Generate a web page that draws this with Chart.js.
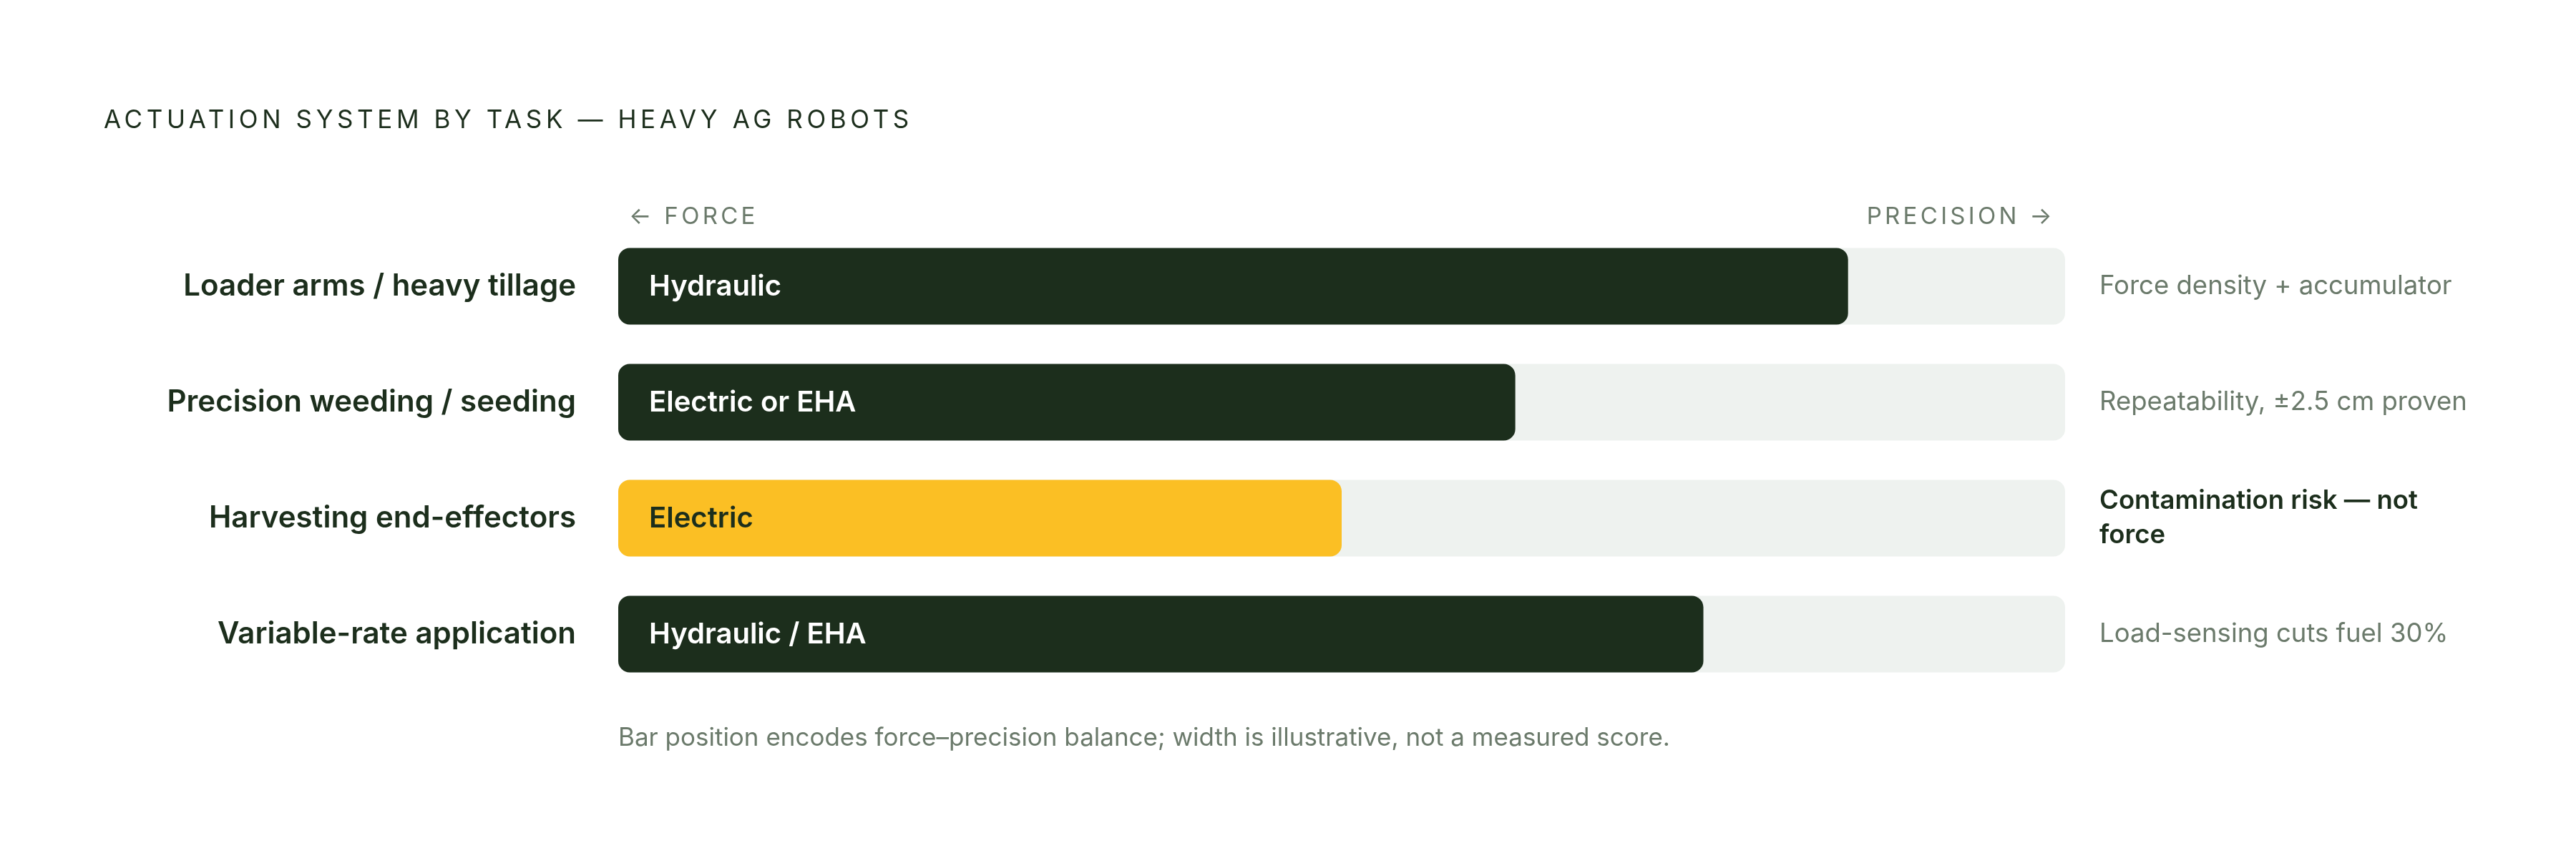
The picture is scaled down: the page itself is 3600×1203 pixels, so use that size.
<!DOCTYPE html>
<html>
<head>
<meta charset="utf-8">
<script src="https://cdn.jsdelivr.net/npm/chart.js@4.4.1/dist/chart.umd.min.js"></script>
<style>
  html, body { margin: 0; padding: 0; background: #ffffff; }
  #wrap { width: 3600px; height: 1203px; }
</style>
</head>
<body>
<div id="wrap"><canvas id="chart" width="3600" height="1203"></canvas></div>
<script>
// --- data ---
const tasks = [
  "Loader arms / heavy tillage",
  "Precision weeding / seeding",
  "Harvesting end-effectors",
  "Variable-rate application"
];
const actuators = ["Hydraulic", "Electric or EHA", "Electric", "Hydraulic / EHA"];
const balance = [85, 62, 50, 75];          // force -> precision position
const trackMax = [100, 100, 100, 100];
const notes = [
  "Force density + accumulator",
  "Repeatability, \u00b12.5 cm proven",
  "Contamination risk \u2014 not force",
  "Load-sensing cuts fuel 30%"
];
const highlight = [false, false, true, false];
const axisEnds = ["\u2190 FORCE", "PRECISION \u2192"];
const title = "ACTUATION SYSTEM BY TASK \u2014 HEAVY AG ROBOTS";
const footnote = "Bar position encodes force\u2013precision balance; width is illustrative, not a measured score.";

const INK = "#1c2e1c";
const MUTED = "#6b7a6b";
const AMBER = "#fbbf24";
const TRACK = "#eef2ef";
const FONT = "Inter, 'Noto Sans', sans-serif";

// wraps a note into lines that fit maxW
function wrapText(ctx, text, maxW) {
  const words = text.split(" ");
  const lines = [];
  let line = "";
  words.forEach(w => {
    const test = line ? line + " " + w : w;
    if (ctx.measureText(test).width > maxW && line) {
      lines.push(line);
      line = w;
    } else {
      line = test;
    }
  });
  if (line) lines.push(line);
  return lines;
}

const decor = {
  id: "decor",
  afterDraw(chart) {
    const ctx = chart.ctx;
    const area = chart.chartArea;
    const meta = chart.getDatasetMeta(0);
    ctx.save();

    // title
    ctx.font = "400 35px " + FONT;
    ctx.letterSpacing = "5.6px";
    ctx.fillStyle = INK;
    ctx.textAlign = "left";
    ctx.textBaseline = "middle";
    ctx.fillText(title, 145, 168);

    // axis end captions
    ctx.font = "400 33px " + FONT;
    ctx.letterSpacing = "4.3px";
    ctx.fillStyle = MUTED;
    ctx.fillText(axisEnds[0], area.left + 15, 303);
    ctx.textAlign = "right";
    ctx.fillText(axisEnds[1], area.right - 14, 303);
    ctx.letterSpacing = "0px";

    // labels inside bars + notes on the right
    meta.data.forEach((bar, i) => {
      ctx.textAlign = "left";
      ctx.font = "600 40px " + FONT;
      ctx.fillStyle = highlight[i] ? INK : "#ffffff";
      ctx.fillText(actuators[i], bar.base + 43, bar.y + 1);

      ctx.font = (highlight[i] ? "600 " : "400 ") + "36.5px " + FONT;
      ctx.fillStyle = highlight[i] ? INK : MUTED;
      const lines = wrapText(ctx, notes[i], 525);
      const lh = 48;
      lines.forEach((ln, k) => {
        ctx.fillText(ln, area.right + 48, bar.y + (k - (lines.length - 1) / 2) * lh);
      });
    });

    // footnote
    ctx.font = "400 35px " + FONT;
    ctx.fillStyle = MUTED;
    ctx.textAlign = "left";
    ctx.fillText(footnote, area.left, 1031);
    ctx.restore();
  }
};

new Chart(document.getElementById("chart"), {
  type: "bar",
  data: {
    labels: tasks,
    datasets: [
      {
        label: "Force / precision balance",
        data: balance,
        backgroundColor: highlight.map(h => h ? AMBER : INK),
        borderRadius: 16,
        borderSkipped: false,
        grouped: false,
        order: 0,
        categoryPercentage: 1,
        barPercentage: 0.66
      },
      {
        label: "Track",
        data: trackMax,
        backgroundColor: TRACK,
        borderRadius: 16,
        borderSkipped: false,
        grouped: false,
        order: 1,
        categoryPercentage: 1,
        barPercentage: 0.66
      }
    ]
  },
  options: {
    indexAxis: "y",
    responsive: false,
    animation: false,
    devicePixelRatio: 1,
    layout: { padding: { top: 319, bottom: 236, right: 714, left: 0 } },
    plugins: {
      legend: { display: false },
      tooltip: { enabled: false },
      title: { display: false }
    },
    scales: {
      x: {
        display: false,
        min: 0,
        max: 100
      },
      y: {
        grid: { display: false },
        border: { display: false },
        ticks: {
          color: INK,
          padding: 51,
          font: { family: FONT, size: 42, weight: "600" }
        },
        afterFit(scale) { scale.width = 864; }
      }
    }
  },
  plugins: [decor]
});
</script>
</body>
</html>
